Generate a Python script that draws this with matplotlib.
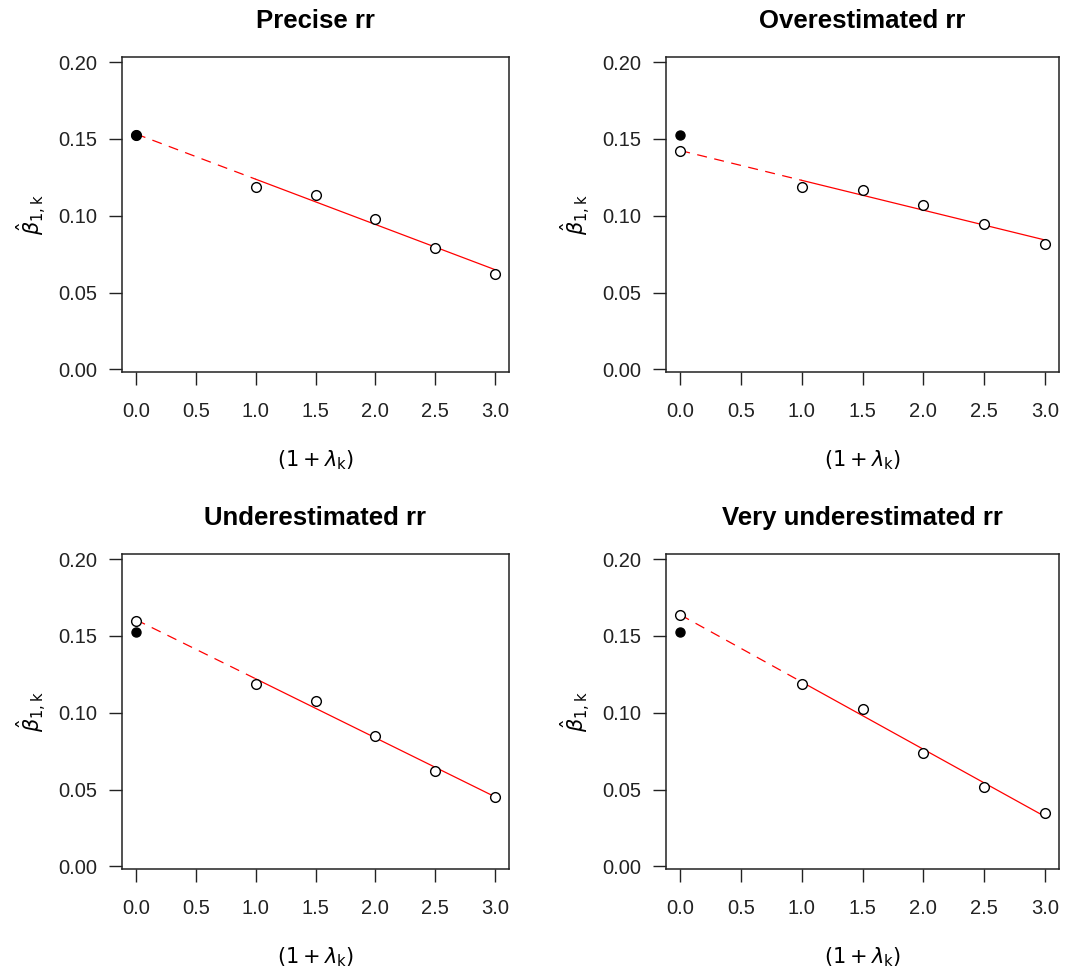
import numpy as np
import matplotlib
matplotlib.use("Agg")
import matplotlib.pyplot as plt

plt.rcParams['font.family'] = ['Liberation Sans', 'DejaVu Sans']
plt.rcParams['mathtext.fontset'] = 'dejavusans'

# data
titles = ["Precise rr", "Overestimated rr", "Underestimated rr", "Very underestimated rr"]
lam = [1.0, 1.5, 2.0, 2.5, 3.0]
beta_k = [
    [0.1189, 0.1135, 0.0976, 0.0793, 0.0624],
    [0.1189, 0.1165, 0.1070, 0.0943, 0.0815],
    [0.1185, 0.1078, 0.0846, 0.0624, 0.0452],
    [0.1185, 0.1026, 0.0739, 0.0517, 0.0346],
]
beta_simex = [0.1526, 0.1422, 0.1600, 0.1633]   # open point at 0
beta_true = 0.1526                              # filled point at 0
xticks = [0.0, 0.5, 1.0, 1.5, 2.0, 2.5, 3.0]
yticks = [0.00, 0.05, 0.10, 0.15, 0.20]

fig = plt.figure(figsize=(10.71, 9.75), dpi=100)

# axes boxes in pixels (left, top, right, bottom)
boxes = [(122, 57, 509, 372), (666, 57, 1059, 372),
         (122, 554, 509, 869), (666, 554, 1059, 869)]

for i in range(4):
    l, t, r, b = boxes[i]
    ax = fig.add_axes([l / 1071, 1 - b / 975, (r - l) / 1071, (b - t) / 975])
    ax.set_xlim(-0.117, 3.117)
    ax.set_ylim(-0.0017, 0.2033)

    # linear fit through the lambda points, extrapolated to 0
    slope, icpt = np.polyfit(lam, beta_k[i], 1)
    xs = np.array([1.0, 3.0])
    ax.plot(xs, icpt + slope * xs, color='red', lw=0.9)
    xd = np.array([0.0, 1.0])
    ax.plot(xd, icpt + slope * xd, color='red', lw=0.9, dashes=(8, 6))

    ax.plot(lam, beta_k[i], 'o', mfc='white', mec='black', ms=7, mew=1.0)
    ax.plot([0.0], [beta_simex[i]], 'o', mfc='white', mec='black', ms=7, mew=1.0)
    ax.plot([0.0], [beta_true], 'o', color='black', ms=6.5)

    ax.set_xticks(xticks)
    ax.set_xticklabels(["%.1f" % v for v in xticks])
    ax.set_yticks(yticks)
    ax.set_yticklabels(["%.2f" % v for v in yticks])
    ax.tick_params(direction='out', length=9.5, width=1.0, labelsize=14.5,
                   colors='#222222')
    ax.tick_params(axis='x', pad=12)
    ax.tick_params(axis='y', pad=8)
    for s in ax.spines.values():
        s.set_linewidth(1.1)
        s.set_color('#222222')

    ax.set_title(titles[i], fontsize=18.5, fontweight='bold', pad=21)
    ax.set_xlabel(r'$(1+\lambda_{\mathrm{k}})$', fontsize=15, labelpad=20)
    ax.set_ylabel(r'$\hat{\beta}_{1,\mathrm{k}}$', fontsize=15, labelpad=8)

fig.savefig("out.png", dpi=100)
